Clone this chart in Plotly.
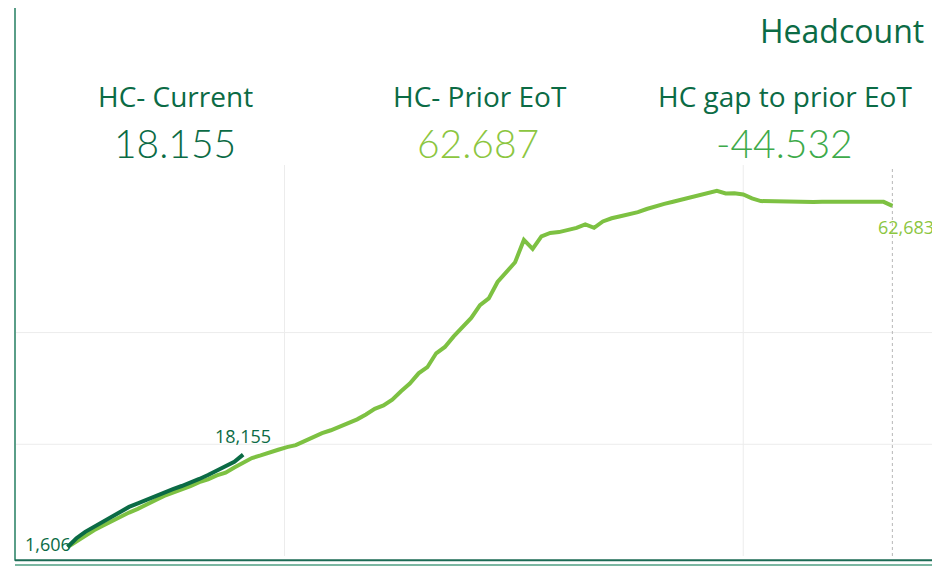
import plotly.graph_objects as go
import pandas as pd

# weekly headcount, prior period (end of term) and current period
weeks = pd.date_range("2019-07-12", periods=95, freq="7D")

hc_prior = [
    1606, 2650, 3520, 4600, 5420, 6260, 6950, 7780, 8440, 9300,
    9980, 10750, 11290, 11990, 12520, 13230, 13720, 14430, 14930, 15860,
    16680, 17540, 18000, 18590, 19020, 19500, 19850, 20570, 21330, 21990,
    22510, 23190, 23750, 24460, 25340, 26360, 26950, 28000, 29500, 30870,
    32700, 33800, 36290, 37420, 39320, 41090, 42610, 44900, 46120, 49060,
    50960, 52590, 56590, 54980, 57220, 57840, 57990, 58430, 58740, 59370,
    58760, 59890, 60460, 60830, 61180, 61550, 62120, 62640, 63040, 63430,
    63830, 64220, 64610, 65010, 65370, 64900, 64950, 64720, 64020, 63540,
    63500, 63450, 63340, 63270, 63310, 63360, 63400, 63400, 63390, 63400,
    63400, 63390, 63400, 63400, 62683,
]

hc_current = [
    1606, 3180, 4330, 5210, 6080, 7020, 7930, 8790, 9430, 10110,
    10780, 11400, 11980, 12530, 13100, 13790, 14500, 15250, 16020, 16870,
    18155,
]

kpi_current = 18155
kpi_prior = 62687
kpi_gap = kpi_current - kpi_prior

grid_dates = ["2020-01-01", "2021-01-01"]
grid_values = [20000, 40000]

DARK = "#0b6b45"
LIGHT = "#7dc142"
MID = "#3daa4a"
LABEL_FONT = "Open Sans"
NUM_FONT = "Lato"


def dotted(n):
    return f"{n:,}".replace(",", ".")


fig = go.Figure()

fig.add_trace(go.Scatter(
    x=weeks, y=hc_prior, mode="lines", name="HC- Prior EoT",
    line=dict(color=LIGHT, width=4), hoverinfo="skip",
))
fig.add_trace(go.Scatter(
    x=weeks[:len(hc_current)], y=hc_current, mode="lines", name="HC- Current",
    line=dict(color=DARK, width=4), hoverinfo="skip",
))

# grid lines
shapes = []
for d in grid_dates:
    shapes.append(dict(type="line", xref="x", yref="paper", x0=d, x1=d, y0=0, y1=1,
                       line=dict(color="#ececec", width=1), layer="below"))
for v in grid_values:
    shapes.append(dict(type="line", xref="paper", yref="y", x0=0, x1=1, y0=v, y1=v,
                       line=dict(color="#ececec", width=1), layer="below"))
# end marker
shapes.append(dict(type="line", xref="x", yref="paper", x0=weeks[-1], x1=weeks[-1],
                   y0=0, y1=0.99, line=dict(color="#b8b8b8", width=1, dash="dot"),
                   layer="below"))
# frame
shapes.append(dict(type="line", xref="paper", yref="paper", x0=0, x1=0, y0=-0.012, y1=1.41,
                   line=dict(color="#5a9e88", width=2)))
shapes.append(dict(type="line", xref="paper", yref="paper", x0=0, x1=1, y0=-0.011, y1=-0.011,
                   line=dict(color="#1d6b55", width=2)))
shapes.append(dict(type="line", xref="paper", yref="paper", x0=0, x1=1, y0=-0.023, y1=-0.023,
                   line=dict(color="#7bb7a2", width=2)))

annotations = [
    dict(text="Headcount", x=0.985, y=1.345, xanchor="right",
         font=dict(family=LABEL_FONT, size=32, color=DARK)),
    dict(text="HC- Current", x=0.173, y=1.176, xanchor="center",
         font=dict(family=LABEL_FONT, size=28, color=DARK)),
    dict(text=dotted(kpi_current), x=0.173, y=1.056, xanchor="center",
         font=dict(family=NUM_FONT, size=39, color=DARK, weight=300)),
    dict(text="HC- Prior EoT", x=0.503, y=1.176, xanchor="center",
         font=dict(family=LABEL_FONT, size=28, color=DARK)),
    dict(text=dotted(kpi_prior), x=0.5, y=1.056, xanchor="center",
         font=dict(family=NUM_FONT, size=39, color="#8cc63f", weight=300)),
    dict(text="HC gap to prior EoT", x=0.832, y=1.176, xanchor="center",
         font=dict(family=LABEL_FONT, size=28, color=DARK)),
    dict(text=dotted(kpi_gap), x=0.832, y=1.056, xanchor="center",
         font=dict(family=NUM_FONT, size=39, color=MID, weight=300)),
]
for a in annotations:
    a.update(xref="paper", yref="paper", showarrow=False, yanchor="middle")

# point labels
annotations += [
    dict(x=weeks[0], y=hc_current[0], text=f"{hc_current[0]:,}", xanchor="right",
         xshift=5, yshift=3, font=dict(size=18, color=DARK)),
    dict(x=weeks[len(hc_current) - 1], y=hc_current[-1], text=f"{hc_current[-1]:,}",
         xanchor="center", yshift=19, font=dict(size=18, color=DARK)),
    dict(x=weeks[-1], y=hc_prior[-1], text=f"{hc_prior[-1]:,}", xanchor="left",
         xshift=-16, yshift=-21, font=dict(size=18, color="#8cc63f")),
]
for a in annotations[-3:]:
    a.update(xref="x", yref="y", showarrow=False, yanchor="middle")

# the page body adds an 8px margin, so the figure is 8px smaller than the window
fig.update_layout(
    width=932, height=559,
    margin=dict(l=7, r=0, t=157, b=11),
    paper_bgcolor="white", plot_bgcolor="white",
    font=dict(family=LABEL_FONT),
    showlegend=False,
    shapes=shapes,
    annotations=annotations,
    xaxis=dict(range=["2019-05-31", "2021-06-07"], showgrid=False, showticklabels=False,
               zeroline=False, showline=False, ticks=""),
    yaxis=dict(range=[0, 70000], showgrid=False, showticklabels=False,
               zeroline=False, showline=False, ticks=""),
)

fig.write_html("out.html")
